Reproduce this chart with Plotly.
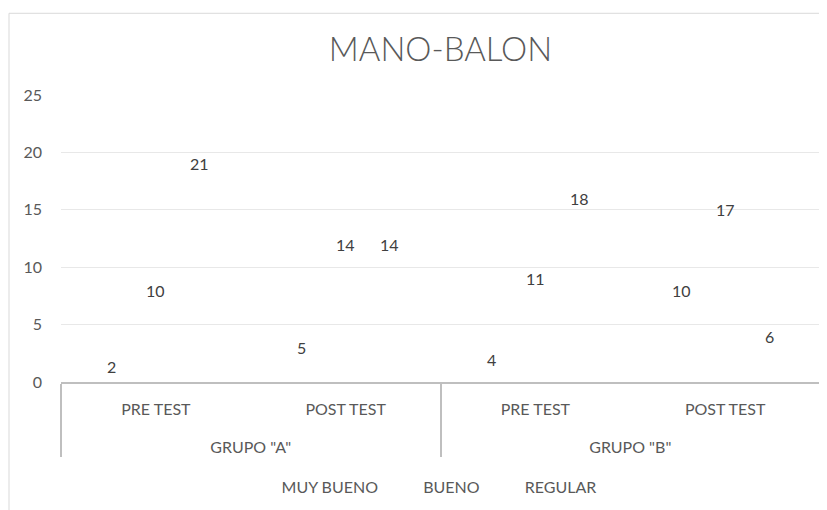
import plotly.graph_objects as go

groups = ['GRUPO "A"', 'GRUPO "A"', 'GRUPO "B"', 'GRUPO "B"']
tests = ["PRE TEST", "POST TEST", "PRE TEST", "POST TEST"]
series_names = ["MUY BUENO", "BUENO", "REGULAR"]
muy_bueno = [2, 5, 4, 10]
bueno = [10, 14, 11, 17]
regular = [21, 14, 18, 6]
series_values = [muy_bueno, bueno, regular]

label_color = "#404040"
axis_text = "#595959"
font_family = "Lato, Calibri, sans-serif"

# the group row sits lower in the Excel chart: blank first line in a larger tick font
def small(s):
    return '<span style="font-size:16px">' + s + '</span>'

x_groups = ["<br>" + small(g) for g in groups]
x_tests = [small(t) for t in tests]

fig = go.Figure()

# Excel chart with no-fill columns: only the data labels are visible
for name, vals in zip(series_names, series_values):
    fig.add_trace(go.Bar(
        x=[x_groups, x_tests],
        y=vals,
        name=name,
        marker=dict(color="rgba(0,0,0,0)", line=dict(width=0)),
        hoverinfo="skip",
    ))

# page body has an 8px margin, so the figure is 8px smaller each way
plot_w, plot_h = 759, 288
px_per_unit = plot_h / 25
annotations = []
for i, vals in enumerate(series_values):
    for g, t, v in zip(x_groups, x_tests, vals):
        annotations.append(dict(
            x=[g, t], y=v, xref="x", yref="y",
            text=str(v), showarrow=False,
            xshift=(i - 1) * 44,
            yshift=-min(23, v * px_per_unit - 16),
            font=dict(size=16, color=label_color, family=font_family),
        ))

fig.update_layout(
    width=819, height=502,
    margin=dict(l=53, r=7, t=87, b=127),
    paper_bgcolor="white", plot_bgcolor="white",
    barmode="group", bargap=0.31, bargroupgap=0,
    font=dict(family=font_family, color=axis_text, size=16),
    title=dict(
        text="MANO-BALON", x=0.5, xref="paper", xanchor="center",
        y=1 - 41 / 502, yref="container", yanchor="middle",
        font=dict(size=33, color=axis_text, family=font_family, weight=300),
    ),
    showlegend=True,
    legend=dict(
        orientation="h", x=0.475, xanchor="center", y=-104 / plot_h, yanchor="middle",
        font=dict(size=16, color=axis_text), itemwidth=30,
    ),
    annotations=annotations,
    shapes=[dict(type="rect", xref="paper", yref="paper",
                 x0=-52 / plot_w, x1=1.2, y0=-1, y1=1 + 82 / plot_h,
                 line=dict(color="#d9d9d9", width=1), layer="below")],
)

fig.update_xaxes(
    type="multicategory", automargin=False,
    showline=True, linecolor="#bfbfbf", linewidth=2,
    showgrid=False,
    ticklabelstandoff=8,
    showdividers=True, dividercolor="#bfbfbf", dividerwidth=2,
    tickfont=dict(size=19, color=axis_text),
)
fig.update_yaxes(
    range=[0, 25], dtick=5, automargin=False,
    showgrid=True, gridcolor="#e8e8e8", gridwidth=1,
    zeroline=False, showline=False,
    ticklabelstandoff=18,
    tickfont=dict(size=16, color=axis_text),
)

fig.write_html("out.html")
